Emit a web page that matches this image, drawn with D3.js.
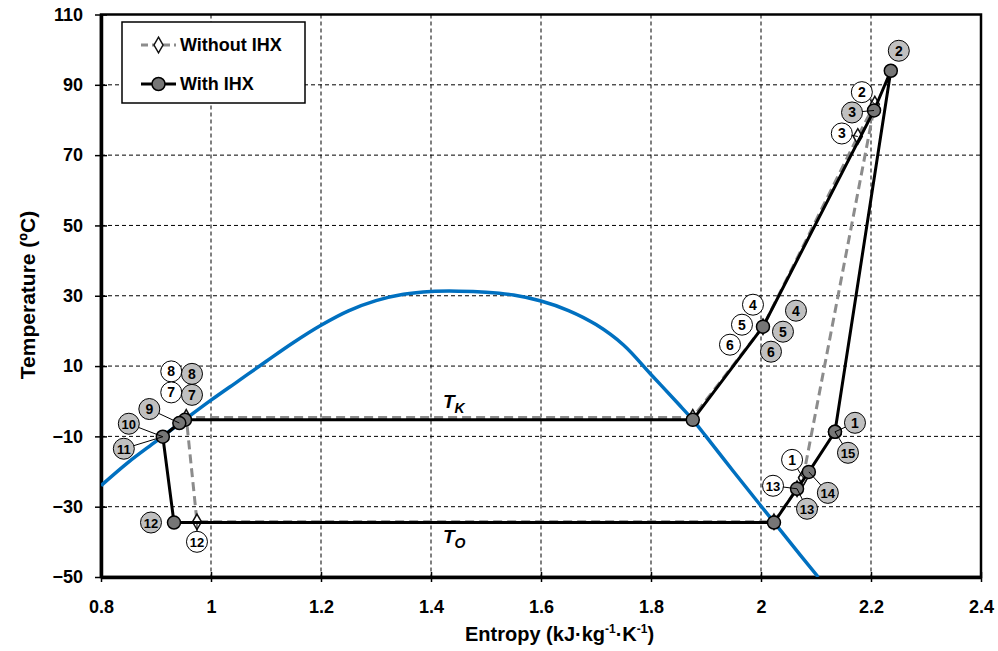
<!DOCTYPE html>
<html>
<head>
<meta charset="utf-8">
<script src="https://cdn.jsdelivr.net/npm/d3@7"></script>
<style>
  html, body { margin: 0; padding: 0; background: #fff; }
  svg { display: block; font-family: "Liberation Sans", Arial, sans-serif; }
</style>
</head>
<body>
<svg id="chart" width="998" height="651"></svg>
<script>
// Saturation dome of the refrigerant (entropy kJ/kg·K, temperature °C)
const domeS = [0.80, 0.85, 0.90, 0.95, 1.00, 1.05, 1.10, 1.15, 1.20, 1.25, 1.30, 1.35, 1.40, 1.45,
               1.50, 1.55, 1.60, 1.65, 1.70, 1.75, 1.80, 1.85, 1.876, 1.90, 1.95, 2.00, 2.05, 2.104];
const domeT = [-24.0, -17.3, -11.4, -5.5, 0.3, 5.8, 11.3, 16.7, 21.6, 25.7, 28.6, 30.4, 31.2, 31.3,
               31.0, 30.2, 28.5, 25.8, 21.8, 16.0, 7.6, -0.8, -5.3, -10.0, -20.0, -29.8, -39.6, -50.0];

// Cycle with internal heat exchanger (state points in drawing order)
const withIds = ["1", "2", "3", "4", "Kv", "7", "9", "10", "12", "Ov", "13", "14", "15"];
const withS   = [2.1345, 2.236, 2.2055, 2.0036, 1.876, 0.9527, 0.9424, 0.9124, 0.9327, 2.0236, 2.0655, 2.087, 2.1345];
const withT   = [-8.7, 94.0, 82.7, 21.2, -5.3, -5.3, -6.2, -10.1, -34.5, -34.5, -24.9, -20.1, -8.7];

// Cycle without internal heat exchanger
const woIds = ["1", "2", "3", "4", "Kv", "7", "12", "Ov", "13", "1b"];
const woS   = [2.0765, 2.207, 2.176, 2.0036, 1.876, 0.955, 0.9745, 2.0236, 2.0655, 2.0765];
const woT   = [-21.8, 84.5, 75.3, 21.2, -4.6, -4.6, -34.3, -34.3, -24.9, -21.8];

// Axis ticks
const xTicks = [0.8, 1.0, 1.2, 1.4, 1.6, 1.8, 2.0, 2.2, 2.4];
const xTickLabels = ["0.8", "1", "1.2", "1.4", "1.6", "1.8", "2", "2.2", "2.4"];
const yTicks = [-50, -30, -10, 10, 30, 50, 70, 90, 110];

// Numbered callouts: anchored series point, text, bubble style (grey = with IHX, white = without),
// offset of the bubble from its point, leader line
const callouts = [
  { s: "with", id: "2",  text: "2",  grey: true,  dx: 8,   dy: -20, lead: false },
  { s: "wo",   id: "2",  text: "2",  grey: false, dx: -13, dy: -12, lead: true },
  { s: "with", id: "3",  text: "3",  grey: true,  dx: -22, dy: 2,   lead: true },
  { s: "wo",   id: "3",  text: "3",  grey: false, dx: -16, dy: -3,  lead: true },
  { s: "wo",   id: "4",  text: "4",  grey: false, dx: -10, dy: -22, lead: false },
  { s: "with", id: "4",  text: "4",  grey: true,  dx: 33,  dy: -16, lead: false },
  { s: "wo",   id: "4",  text: "5",  grey: false, dx: -21, dy: -2,  lead: false },
  { s: "with", id: "4",  text: "5",  grey: true,  dx: 20,  dy: 5,   lead: false },
  { s: "wo",   id: "4",  text: "6",  grey: false, dx: -33, dy: 18,  lead: false },
  { s: "with", id: "4",  text: "6",  grey: true,  dx: 8,   dy: 25,  lead: false },
  { s: "wo",   id: "7",  text: "8",  grey: false, dx: -15, dy: -46, lead: false },
  { s: "with", id: "7",  text: "8",  grey: true,  dx: 7,   dy: -46, lead: false },
  { s: "wo",   id: "7",  text: "7",  grey: false, dx: -15, dy: -25, lead: false },
  { s: "with", id: "7",  text: "7",  grey: true,  dx: 7,   dy: -25, lead: false },
  { s: "with", id: "9",  text: "9",  grey: true,  dx: -30, dy: -14, lead: true },
  { s: "with", id: "10", text: "10", grey: true,  dx: -34, dy: -13, lead: true },
  { s: "with", id: "10", text: "11", grey: true,  dx: -39, dy: 12,  lead: true },
  { s: "with", id: "12", text: "12", grey: true,  dx: -23, dy: 0,   lead: false },
  { s: "wo",   id: "12", text: "12", grey: false, dx: 0,   dy: 20,  lead: true },
  { s: "with", id: "1",  text: "1",  grey: true,  dx: 20,  dy: -9,  lead: true },
  { s: "with", id: "1",  text: "15", grey: true,  dx: 13,  dy: 21,  lead: true },
  { s: "wo",   id: "1",  text: "1",  grey: false, dx: -11, dy: -18, lead: true },
  { s: "with", id: "13", text: "13", grey: false, dx: -24, dy: -3,  lead: true },
  { s: "with", id: "14", text: "14", grey: true,  dx: 19,  dy: 21,  lead: true },
  { s: "with", id: "13", text: "13", grey: true,  dx: 10,  dy: 20,  lead: true }
];

const svg = d3.select("#chart");
const M = { left: 101, right: 981, top: 14.5, bottom: 577 };

const x = d3.scaleLinear().domain([0.8, 2.4]).range([M.left, M.right]);
const y = d3.scaleLinear().domain([-50, 110]).range([M.bottom, M.top]);

svg.append("rect").attr("width", 998).attr("height", 651).attr("fill", "#fff");

svg.append("defs").append("clipPath").attr("id", "plotclip")
  .append("rect").attr("x", M.left).attr("y", M.top)
  .attr("width", M.right - M.left).attr("height", M.bottom - M.top);

// Grid
const grid = svg.append("g").attr("stroke", "#000").attr("stroke-width", 1)
  .attr("stroke-dasharray", "4,3").attr("fill", "none");
xTicks.slice(1, -1).forEach(v => {
  grid.append("line").attr("x1", x(v)).attr("x2", x(v)).attr("y1", M.top).attr("y2", M.bottom);
});
yTicks.slice(1, -1).forEach(v => {
  grid.append("line").attr("x1", M.left).attr("x2", M.right).attr("y1", y(v)).attr("y2", y(v));
});

// Frame
svg.append("rect").attr("x", M.left).attr("y", M.top)
  .attr("width", M.right - M.left).attr("height", M.bottom - M.top)
  .attr("fill", "none").attr("stroke", "#000").attr("stroke-width", 2.5);

// Axes
const xAxis = d3.axisBottom(x).tickValues(xTicks)
  .tickFormat((d, i) => xTickLabels[i]).tickSizeInner(5).tickSizeOuter(0).tickPadding(18);
const gx = svg.append("g").attr("transform", `translate(0,${M.bottom})`).call(xAxis);
gx.select(".domain").attr("stroke-width", 3.5);
gx.selectAll(".tick line").attr("y1", -5).attr("stroke-width", 1.5);
gx.selectAll(".tick text").attr("font-size", 18).attr("font-weight", "bold")
  .attr("font-family", "Liberation Sans, Arial, sans-serif").attr("fill", "#000");

const yAxis = d3.axisLeft(y).tickValues(yTicks).tickSizeInner(6).tickSizeOuter(0).tickPadding(12);
const gy = svg.append("g").attr("transform", `translate(${M.left},0)`).call(yAxis);
gy.select(".domain").attr("stroke-width", 3.5);
gy.selectAll(".tick line").attr("x1", 6).attr("stroke-width", 1.5);
gy.selectAll(".tick text").attr("font-size", 18).attr("font-weight", "bold")
  .attr("font-family", "Liberation Sans, Arial, sans-serif").attr("fill", "#000");

const plot = svg.append("g").attr("clip-path", "url(#plotclip)");

// Saturation dome
const dome = domeS.map((s, i) => [s, domeT[i]]);
plot.append("path").datum(dome)
  .attr("d", d3.line().x(d => x(d[0])).y(d => y(d[1])).curve(d3.curveCatmullRom.alpha(0.5)))
  .attr("fill", "none").attr("stroke", "#0070C0").attr("stroke-width", 3.5);

const withPts = withS.map((s, i) => ({ id: withIds[i], s, t: withT[i] }));
const woPts = woS.map((s, i) => ({ id: woIds[i], s, t: woT[i] }));
const find = (series, id) => (series === "with" ? withPts : woPts).find(p => p.id === id);

// Leader lines of the callouts
const leaders = svg.append("g").attr("stroke", "#000").attr("stroke-width", 1);
callouts.filter(c => c.lead).forEach(c => {
  const p = find(c.s, c.id);
  leaders.append("line")
    .attr("x1", x(p.s)).attr("y1", y(p.t))
    .attr("x2", x(p.s) + c.dx).attr("y2", y(p.t) + c.dy);
});

const line = d3.line().x(d => x(d.s)).y(d => y(d.t));

// Cycle without IHX
plot.append("path").datum(woPts).attr("d", line)
  .attr("fill", "none").attr("stroke", "#8c8c8c").attr("stroke-width", 3)
  .attr("stroke-dasharray", "9,5");
const diamond = d3.symbol().type(d3.symbolDiamond).size(70);
plot.selectAll(".wo").data(woPts).enter().append("path")
  .attr("transform", d => `translate(${x(d.s)},${y(d.t)})`)
  .attr("d", diamond).attr("fill", "#fff").attr("stroke", "#111").attr("stroke-width", 1.5);

// Cycle with IHX
plot.append("path").datum(withPts).attr("d", line)
  .attr("fill", "none").attr("stroke", "#000").attr("stroke-width", 3);
plot.selectAll(".wi").data(withPts).enter().append("circle")
  .attr("cx", d => x(d.s)).attr("cy", d => y(d.t)).attr("r", 6.5)
  .attr("fill", "#767676").attr("stroke", "#000").attr("stroke-width", 1.5);

// Callout bubbles
const bubbles = svg.append("g");
callouts.forEach(c => {
  const p = find(c.s, c.id);
  const cx = x(p.s) + c.dx, cy = y(p.t) + c.dy;
  bubbles.append("circle").attr("cx", cx).attr("cy", cy).attr("r", 10.5)
    .attr("fill", c.grey ? "#c0c0c0" : "#fff").attr("stroke", "#000").attr("stroke-width", 1);
  bubbles.append("text").attr("x", cx).attr("y", cy + 5)
    .attr("text-anchor", "middle").attr("font-size", c.text.length > 1 ? 13 : 14)
    .attr("font-weight", "bold").attr("fill", "#000").text(c.text);
});

// Isotherm labels
const iso = [{ main: "T", sub: "K", t: -5.3, off: -12 }, { main: "T", sub: "O", t: -34.5, off: 20 }];
iso.forEach(d => {
  const tx = svg.append("text").attr("x", 443).attr("y", y(d.t) + d.off)
    .attr("font-size", 19).attr("font-weight", "bold").attr("font-style", "italic");
  tx.append("tspan").text(d.main);
  tx.append("tspan").attr("dy", 5).attr("font-size", 14).text(d.sub);
});

// Legend
const lg = svg.append("g");
lg.append("rect").attr("x", 122).attr("y", 22).attr("width", 183).attr("height", 81)
  .attr("fill", "#fff").attr("stroke", "#000").attr("stroke-width", 1.5);
lg.append("line").attr("x1", 141).attr("x2", 176).attr("y1", 45).attr("y2", 45)
  .attr("stroke", "#8c8c8c").attr("stroke-width", 3).attr("stroke-dasharray", "7,4");
lg.append("path").attr("transform", "translate(158.5,45)").attr("d", diamond)
  .attr("fill", "#fff").attr("stroke", "#111").attr("stroke-width", 1.5);
lg.append("text").attr("x", 180).attr("y", 51).attr("font-size", 18).attr("font-weight", "bold").text("Without IHX");
lg.append("line").attr("x1", 141).attr("x2", 176).attr("y1", 84).attr("y2", 84)
  .attr("stroke", "#000").attr("stroke-width", 3);
lg.append("circle").attr("cx", 158.5).attr("cy", 84).attr("r", 6.5)
  .attr("fill", "#767676").attr("stroke", "#000").attr("stroke-width", 1.5);
lg.append("text").attr("x", 180).attr("y", 90).attr("font-size", 18).attr("font-weight", "bold").text("With IHX");

// Axis titles
const xt = svg.append("text").attr("x", 465).attr("y", 641).attr("font-size", 20).attr("font-weight", "bold");
xt.append("tspan").text("Entropy (kJ·kg");
xt.append("tspan").attr("dy", -8).attr("font-size", 12).text("-1");
xt.append("tspan").attr("dy", 8).text("·K");
xt.append("tspan").attr("dy", -8).attr("font-size", 12).text("-1");
xt.append("tspan").attr("dy", 8).text(")");

svg.append("text").attr("transform", "translate(35,295) rotate(-90)")
  .attr("text-anchor", "middle").attr("font-size", 21).attr("font-weight", "bold")
  .text("Temperature (ºC)");
</script>
</body>
</html>
